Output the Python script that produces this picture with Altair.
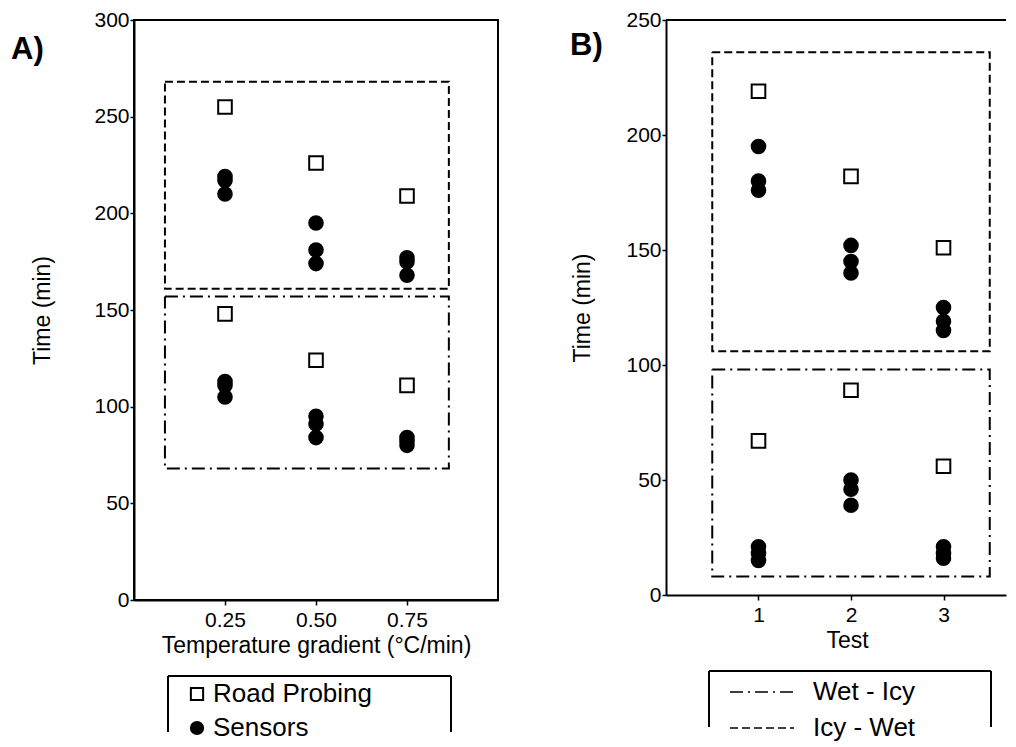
import altair as alt
import pandas as pd

# ---------------- data ----------------
methods = ["Road Probing", "Sensors"]
transitions = ["Wet - Icy", "Icy - Wet"]

# Panel A: temperature gradient
gradient = [0.25, 0.50, 0.75]
a_probe_icy_wet = [255, 226, 209]
a_probe_wet_icy = [148, 124, 111]
a_sensor_icy_wet = [[219, 217, 210], [195, 181, 174], [177, 175, 168]]
a_sensor_wet_icy = [[113, 111, 105], [95, 91, 84], [84, 82, 80]]
a_box_x = [0.085, 0.865]
a_box_icy_wet = [161, 268]
a_box_wet_icy = [68, 157]

# Panel B: tests
tests = [1, 2, 3]
b_probe_icy_wet = [219, 182, 151]
b_probe_wet_icy = [67, 89, 56]
b_sensor_icy_wet = [[195, 180, 176], [152, 145, 140], [125, 119, 115]]
b_sensor_wet_icy = [[21, 18, 15], [50, 46, 39], [21, 18, 16]]
b_box_x = [0.5, 3.5]
b_box_icy_wet = [106, 236]
b_box_wet_icy = [8, 98]

a_yticks = [0, 50, 100, 150, 200, 250, 300]
b_yticks = [0, 50, 100, 150, 200, 250]

FONT = "Liberation Sans"


def points_frame(xs, p_iw, p_wi, s_iw, s_wi):
    rows = []
    for i, x in enumerate(xs):
        rows.append({"x": x, "time": p_iw[i], "method": methods[0]})
        rows.append({"x": x, "time": p_wi[i], "method": methods[0]})
        for v in s_iw[i]:
            rows.append({"x": x, "time": v, "method": methods[1]})
        for v in s_wi[i]:
            rows.append({"x": x, "time": v, "method": methods[1]})
    return pd.DataFrame(rows)


def box_frame(bx, b_iw, b_wi):
    # outline of each box as a closed path of its corners
    rows = []
    for name, (lo, hi) in ((transitions[0], b_wi), (transitions[1], b_iw)):
        corners = [(bx[0], hi), (bx[1], hi), (bx[1], lo), (bx[0], lo), (bx[0], hi)]
        for k, (cx, cy) in enumerate(corners):
            rows.append({"transition": name, "order": k, "bx": cx, "by": cy})
    return pd.DataFrame(rows)


one = pd.DataFrame({"k": [0]})


def panel(pts_df, box_df, xdomain, ydomain, width, height, xvalues, xformat,
          xtitle, ytitle, yticks, ytitlepad, label, label_xy, shape_legend,
          dash_legend, frame, xtitle_x=None, top_rule=False):
    xscale = alt.Scale(domain=xdomain, nice=False, zero=False)
    yscale = alt.Scale(domain=ydomain, nice=False, zero=False)
    xaxis_kw = dict(values=xvalues, format=xformat, title=xtitle, tickSize=5,
                    labelPadding=4, titlePadding=4, labelFlush=False,
                    labelOverlap=False)
    if xtitle_x is not None:
        xaxis_kw["titleX"] = xtitle_x
    xaxis = alt.Axis(**xaxis_kw)
    yaxis = alt.Axis(values=yticks, title=ytitle, tickSize=4, labelPadding=1,
                     titlePadding=ytitlepad, labelFlush=False, labelOverlap=False)

    boxes = alt.Chart(box_df).mark_line(
        color="black", strokeWidth=2, strokeCap="butt"
    ).encode(
        x=alt.X("bx:Q", scale=xscale, axis=xaxis),
        y=alt.Y("by:Q", scale=yscale, axis=yaxis),
        order="order:Q",
        strokeDash=alt.StrokeDash(
            "transition:N",
            scale=alt.Scale(domain=transitions, range=[[13, 5, 2, 5], [8, 4]]),
            legend=dash_legend,
        ),
    )

    pts = alt.Chart(pts_df).mark_point(
        filled=True, strokeWidth=2, opacity=1, size=185
    ).encode(
        x=alt.X("x:Q", scale=xscale, axis=xaxis),
        y=alt.Y("time:Q", scale=yscale, axis=yaxis),
        shape=alt.Shape("method:N",
                        scale=alt.Scale(domain=methods, range=["square", "circle"]),
                        legend=shape_legend),
        fill=alt.Fill("method:N",
                      scale=alt.Scale(domain=methods, range=["white", "black"]),
                      legend=shape_legend),
        stroke=alt.Stroke("method:N",
                          scale=alt.Scale(domain=methods, range=["black", "black"]),
                          legend=shape_legend),
    )

    lab = alt.Chart(pd.DataFrame({"t": [label]})).mark_text(
        font=FONT, fontSize=31, fontWeight="bold", align="left",
        baseline="alphabetic", color="black"
    ).encode(text="t:N", x=alt.value(label_xy[0]), y=alt.value(label_xy[1]))

    fx1, fx2, fy1, fy2 = frame
    frame_top = alt.Chart(one).mark_rule(color="black", strokeWidth=2).encode(
        x=alt.value(fx1), x2=alt.value(fx2), y=alt.value(fy1))
    frame_left = alt.Chart(one).mark_rule(color="black", strokeWidth=2).encode(
        x=alt.value(fx1), y=alt.value(fy1), y2=alt.value(fy2))
    frame_right = alt.Chart(one).mark_rule(color="black", strokeWidth=2).encode(
        x=alt.value(fx2), y=alt.value(fy1), y2=alt.value(fy2))

    layers = [boxes, pts, lab, frame_top, frame_left, frame_right]
    if top_rule:
        layers.append(alt.Chart(one).mark_rule(color="black", strokeWidth=2).encode(
            x=alt.value(0), x2=alt.value(width), y=alt.value(0)))
    return alt.layer(*layers).properties(width=width, height=height)


legend_a = alt.Legend(
    title=None, orient="none", legendX=50, legendY=661,
    symbolSize=150, symbolStrokeWidth=2,
    labelFont=FONT, labelFontSize=26, labelColor="black", labelOffset=3,
    rowPadding=8,
)
legend_b = alt.Legend(
    title=None, orient="none", legendX=83, legendY=659,
    symbolType="M-4,0H4", symbolSize=256, symbolStrokeColor="black",
    symbolStrokeWidth=1.6,
    labelFont=FONT, labelFontSize=26, labelColor="black", labelOffset=38,
    rowPadding=10,
)

panel_a = panel(
    points_frame(gradient, a_probe_icy_wet, a_probe_wet_icy, a_sensor_icy_wet, a_sensor_wet_icy),
    box_frame(a_box_x, a_box_icy_wet, a_box_wet_icy),
    [0, 1], [0, 300], 364, 580, gradient, ".2f",
    "Temperature gradient (°C/min)", "Time (min)", a_yticks, 39,
    "A)", (-123, 39), legend_a, None, (34, 317, 656, 712),
).properties(view=alt.ViewBackground(stroke="black", strokeWidth=2))

b_width = 340
panel_b = panel(
    points_frame(tests, b_probe_icy_wet, b_probe_wet_icy, b_sensor_icy_wet, b_sensor_wet_icy),
    box_frame(b_box_x, b_box_icy_wet, b_box_wet_icy),
    [0, b_width / 92.5], [0, 250], b_width, 575, tests, "d",
    "Test", "Time (min)", b_yticks, 31,
    "B)", (-96, 35), None, legend_b, (43, 325, 651, 707),
    xtitle_x=181, top_rule=True,
).properties(view=alt.ViewBackground(stroke="transparent"))

chart = alt.hconcat(panel_a, panel_b, spacing=70).resolve_scale(
    shape="independent", fill="independent", stroke="independent",
    strokeDash="independent",
).resolve_legend(
    shape="independent", fill="independent", stroke="independent",
    strokeDash="independent",
).properties(
    padding={"left": 2, "top": 0, "right": 0, "bottom": 0},
).configure_axis(
    labelFont=FONT, titleFont=FONT, labelFontSize=21, titleFontSize=23,
    titleFontWeight="normal", labelColor="black", titleColor="black",
    domainColor="black", domainWidth=2, tickColor="black", tickWidth=1.5,
    grid=False,
).configure_legend(
    labelFont=FONT,
).configure_view(
    strokeWidth=2,
)

chart.save("out.html", embed_options={"renderer": "svg", "actions": False})
